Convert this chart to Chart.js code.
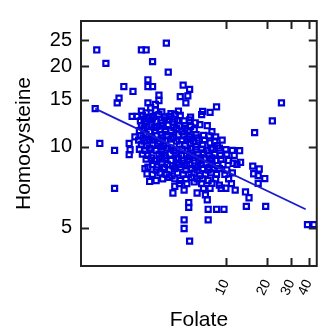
<!DOCTYPE html>
<html>
<head>
<meta charset="utf-8">
<script src="https://cdn.jsdelivr.net/npm/chart.js@4.4.0/dist/chart.umd.min.js"></script>
<style>
html,body{margin:0;padding:0;background:#fff;}
#c{display:block;}
</style>
</head>
<body>
<canvas id="c" width="335" height="333"></canvas>
<script>
// ---- data ----
const xTicks = [10, 20, 30, 40];
const yTicks = [5, 10, 15, 20, 25];
const xLabel = 'Folate';
const yLabel = 'Homocysteine';

const folate = [
  // scattered points
  1.15,1.34,2.43,2.63,3.69,2.93,3.81,2.71,2.71,2.93,1.81,2.11,1.67,1.62,4.89,5.45,4.66,5.29,5.12,3.26,
  3.26,3.07,2.71,2.84,1.12,8.56,7.68,6.67,5.99,7.33,16.2,21.8,25.4,9.40,4.25,4.97,1.21,1.55,1.98,2.01,
  1.98,2.18,2.08,2.25,1.55,2.79,3.11,4.12,4.25,4.97,6.18,7.10,7.33,5.37,5.37,4.97,4.97,7.44,8.56,9.69,
  7.44,5.45,9.25,10.0,11.7,13.9,14.75,14.1,19.5,39.3,43.8,12.6,11.3,12.8,15.7,17.5,15.95,17.2,19.2,17.2,
  2.67,2.71,3.16,7.92,6.78,6.88,7.68,6.08,10.0,5.04,
  // dense cloud
  2.43,2.63,3.07,3.42,3.99,4.52,
  2.47,2.71,2.97,3.26,3.58,3.87,4.66,5.54,
  2.54,2.93,3.37,4.25,
  2.39,2.58,2.84,3.11,3.42,3.75,4.12,4.45,5.45,
  2.43,2.67,2.88,3.16,3.47,3.81,4.18,4.59,5.54,6.47,
  2.54,3.02,3.64,4.38,5.04,
  2.35,2.54,2.79,3.07,3.31,3.64,3.99,4.38,4.81,5.29,5.89,7.92,
  2.39,2.63,2.88,3.11,3.42,3.75,4.12,4.52,4.97,5.45,6.08,7.56,8.43,
  2.50,2.93,3.47,4.18,5.20,6.18,
  2.32,2.54,2.79,3.02,3.31,3.64,3.99,4.38,4.81,5.29,5.80,6.37,6.99,8.30,
  2.43,2.67,2.93,3.21,3.53,4.59,5.04,5.54,6.78,8.69,
  2.79,3.37,3.99,5.54,6.08,7.80,
  2.35,2.58,2.84,3.11,3.42,3.75,4.18,4.81,5.29,6.67,7.33,8.04,8.97,11.15,
  2.47,2.71,3.26,3.58,3.93,4.32,4.74,5.20,5.71,6.27,6.88,7.56,8.30,9.11,10.16,11.51,
  2.88,3.42,4.52,5.45,6.57,7.92,
  2.63,3.02,3.31,3.64,3.99,4.38,4.81,5.29,5.80,6.37,6.99,7.68,8.43,9.25,10.48,
  2.93,3.42,3.75,4.12,4.52,4.97,5.45,5.99,6.57,7.21,7.92,8.69,9.54,12.05,
  3.58,4.32,5.20,6.27,7.56,
  2.58,3.11,3.53,3.87,4.25,4.66,5.12,5.62,6.18,6.78,7.44,8.17,8.97,10.16,
  2.93,3.31,3.69,4.06,4.45,4.89,5.37,5.89,6.47,7.10,7.80,8.56,9.84,11.15,
  3.47,3.87,4.25,4.66,5.12,5.62,6.18,6.78,7.44,8.43,10.48,
  4.59,5.20,5.89,6.67,8.97,10.98,
  6.88,7.68
];
const homocysteine = [
  23.0,20.5,23.0,23.0,24.4,20.8,19.0,17.8,16.8,16.8,16.8,16.1,15.2,14.6,17.0,16.4,15.4,15.5,14.6,15.6,
  14.9,14.4,14.6,14.0,13.9,14.1,13.45,13.2,12.3,12.0,11.3,12.5,14.6,10.6,13.2,12.5,10.3,9.7,10.3,9.76,
  9.36,10.9,13.0,13.0,7.0,7.43,7.49,6.73,7.13,6.9,6.73,6.62,6.35,6.2,5.95,5.34,4.96,5.85,5.85,5.85,
  5.34,4.45,7.01,7.01,6.9,6.79,6.46,6.0,6.0,5.13,5.13,9.68,8.69,8.76,8.48,8.27,7.94,7.81,7.62,7.31,
  7.94,8.41,8.41,7.31,13.56,11.04,10.34,9.76,9.76,12.0,
  13.6,13.4,13.7,13.5,13.3,13.6,
  13.1,12.9,13.0,13.2,12.9,13.0,13.1,12.9,
  12.7,12.8,12.6,12.7,
  12.5,12.4,12.6,12.5,12.3,12.6,12.4,12.5,12.6,
  12.0,11.9,12.1,11.9,12.0,12.1,11.8,12.0,11.9,12.1,
  11.7,11.8,11.6,11.7,11.7,
  11.5,11.6,11.4,11.5,11.6,11.4,11.5,11.6,11.4,11.5,11.6,11.4,
  11.0,11.1,10.9,11.0,11.1,11.0,10.9,11.1,11.0,10.9,11.1,11.0,10.9,
  10.8,10.7,10.8,10.8,10.7,10.8,
  10.6,10.5,10.7,10.6,10.5,10.6,10.7,10.5,10.6,10.7,10.5,10.6,10.6,10.5,
  10.2,10.1,10.2,10.3,10.1,10.2,10.1,10.3,10.2,10.1,
  9.9,10.0,9.9,9.9,10.0,9.9,
  9.8,9.7,9.8,9.7,9.8,9.9,9.7,9.8,9.7,9.8,9.7,9.8,9.9,9.7,
  9.4,9.3,9.4,9.3,9.4,9.5,9.3,9.4,9.3,9.4,9.5,9.3,9.4,9.3,9.4,9.3,
  9.1,9.2,9.1,9.2,9.1,9.1,
  9.0,8.9,9.0,9.1,8.9,9.0,8.9,9.0,9.1,8.9,9.0,9.0,8.9,9.0,8.9,
  8.6,8.7,8.6,8.5,8.6,8.7,8.6,8.5,8.6,8.7,8.6,8.5,8.6,8.6,
  8.4,8.4,8.5,8.4,8.4,
  8.3,8.2,8.3,8.2,8.3,8.4,8.2,8.3,8.2,8.3,8.2,8.3,8.3,8.2,
  7.9,8.0,7.9,7.8,8.0,7.9,7.9,8.0,7.8,7.9,8.0,7.9,7.9,8.0,
  7.6,7.7,7.6,7.5,7.6,7.7,7.6,7.6,7.5,7.6,7.6,
  7.3,7.3,7.4,7.3,7.2,7.3,
  7.0,7.0
];
// fitted regression line end points
const fitFolate = [1.12, 38.1];
const fitHcy = [13.9, 5.85];

const xRange = [0.883, 45.9];
const yRange = [3.594, 29.5];

const points = folate.map((v, i) => ({x: v, y: homocysteine[i]}));
const fitLine = fitFolate.map((v, i) => ({x: v, y: fitHcy[i]}));

const FONT = "'Liberation Sans', Arial, Helvetica, sans-serif";
const BLUE = '#0000dd';

const framePlugin = {
  id: 'frame',
  afterDatasetsDraw(chart) {
    const {ctx, chartArea: {left, top, right, bottom}, scales: {x, y}} = chart;
    ctx.save();
    ctx.strokeStyle = '#222';
    ctx.lineWidth = 2;
    ctx.strokeRect(left, top, right - left, bottom - top);
    ctx.beginPath();
    x.ticks.forEach(t => {
      const px = Math.round(x.getPixelForValue(t.value)) + 0.5;
      ctx.moveTo(px, bottom); ctx.lineTo(px, bottom - 8);
      ctx.moveTo(px, top); ctx.lineTo(px, top + 8);
    });
    y.ticks.forEach(t => {
      const py = Math.round(y.getPixelForValue(t.value)) + 0.5;
      ctx.moveTo(left, py); ctx.lineTo(left + 8, py);
      ctx.moveTo(right, py); ctx.lineTo(right - 8, py);
    });
    ctx.stroke();
    ctx.restore();
  }
};

new Chart(document.getElementById('c'), {
  type: 'scatter',
  data: {
    datasets: [
      {
        type: 'line',
        data: fitLine,
        borderColor: '#1a1ad0',
        borderWidth: 1.8,
        pointRadius: 0,
        fill: false,
        tension: 0
      },
      {
        data: points,
        pointStyle: 'rect',
        pointRadius: 3.6,
        pointBorderWidth: 2.2,
        borderColor: BLUE,
        backgroundColor: 'rgba(0,0,0,0)',
        pointBackgroundColor: 'rgba(0,0,0,0)'
      }
    ]
  },
  options: {
    responsive: false,
    animation: false,
    devicePixelRatio: 1,
    layout: {padding: {left: 0, right: 0, top: 11, bottom: 0}},
    plugins: {legend: {display: false}, tooltip: {enabled: false}},
    scales: {
      x: {
        type: 'logarithmic',
        min: xRange[0], max: xRange[1],
        afterBuildTicks: s => { s.ticks = xTicks.map(v => ({value: v})); },
        afterFit: s => { s.height = 67; },
        grid: {display: false, drawTicks: false},
        border: {display: false},
        ticks: {
          autoSkip: false, minRotation: 65, maxRotation: 65, padding: 11,
          color: '#000', font: {family: FONT, size: 14},
          callback: v => String(v)
        },
        title: {display: true, text: xLabel, color: '#000', font: {family: FONT, size: 21}, padding: {top: 0, bottom: 0}}
      },
      y: {
        type: 'logarithmic',
        min: yRange[0], max: yRange[1],
        afterBuildTicks: s => { s.ticks = yTicks.map(v => ({value: v})); },
        afterFit: s => { s.width = 81; },
        grid: {display: false, drawTicks: false},
        border: {display: false},
        ticks: {
          padding: 9, color: '#000', font: {family: FONT, size: 20},
          callback: v => String(v)
        },
        title: {display: true, text: yLabel, color: '#000', font: {family: FONT, size: 21}, padding: {top: 12, bottom: 0}}
      }
    }
  },
  plugins: [framePlugin]
});
</script>
</body>
</html>
